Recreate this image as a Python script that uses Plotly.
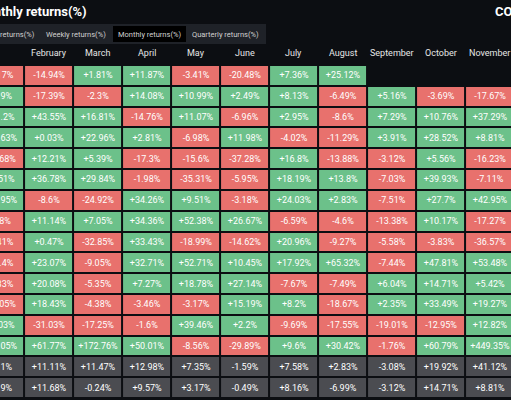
import plotly.graph_objects as go

months = ["January","February","March","April","May","June","July","August","September","October","November"]
row_labels = ["2024","2023","2022","2021","2020","2019","2018","2017","2016","2015","2014","2013","2012","2011","Average","Median"]
r2024 = [-6.17,-14.94,1.81,11.87,-3.41,-20.48,7.36,25.12,None,None,None]
r2023 = [9.9,-17.39,-2.3,14.08,10.99,2.49,8.13,-6.49,5.16,-3.69,-17.67]
r2022 = [31.2,43.55,16.81,-14.76,11.07,-6.96,2.95,-8.6,7.29,10.76,37.29]
r2021 = [15.63,0.03,22.96,2.81,-6.98,11.98,-4.02,-11.29,3.91,28.52,8.81]
r2020 = [-19.68,12.21,5.39,-17.3,-15.6,-37.28,16.8,-13.88,-3.12,5.56,-16.23]
r2019 = [1.51,36.78,29.84,-1.98,-35.31,-5.95,18.19,13.8,-7.03,39.93,-7.11]
r2018 = [21.95,-8.6,-24.92,34.26,9.51,-3.18,24.03,2.83,-7.51,27.7,42.95]
r2017 = [-8.8,11.14,7.05,34.36,52.38,26.67,-6.59,-4.6,-13.38,10.17,-17.27]
r2016 = [-9.41,0.47,-32.85,33.43,-18.99,-14.62,20.96,-9.27,-5.58,-3.83,-36.57]
r2015 = [-10.4,23.07,-9.05,32.71,52.71,10.45,17.92,65.32,-7.44,47.81,53.48]
r2014 = [-7.83,20.08,-5.35,7.27,18.78,27.14,-7.67,-7.49,6.04,14.71,5.42]
r2013 = [-16.05,18.43,-4.38,-3.46,-3.17,15.19,8.2,-18.67,2.35,33.49,19.27]
r2012 = [8.03,-31.03,-17.25,-1.6,39.46,2.2,-9.69,-17.55,-19.01,-12.95,12.82]
r2011 = [27.05,61.77,172.76,50.01,-8.56,-29.89,9.6,30.42,-1.76,60.79,449.35]
average = [6.1,11.11,11.47,12.98,7.35,-1.59,7.58,2.83,-3.08,19.92,41.12]
median = [3.9,11.68,-0.24,9.57,3.17,-0.49,8.16,-6.99,-3.12,14.71,8.81]

rows = [r2024,r2023,r2022,r2021,r2020,r2019,r2018,r2017,r2016,r2015,r2014,r2013,r2012,r2011,average,median]

def fmt(v):
    if v is None:
        return ""
    s = f"{v:.2f}".rstrip("0").rstrip(".")
    return ("+" if v >= 0 else "") + s + "%"

z, text = [], []
for i, r in enumerate(rows):
    summary = i >= 14
    z.append([None if v is None else (0 if summary else (1 if v >= 0 else -1)) for v in r])
    text.append([fmt(v) for v in r])

GREEN, RED, GRAY = "#6cc18a", "#e8716d", "#4b4c51"
BG = "#0c0e12"

fig = go.Figure(go.Heatmap(
    z=z, text=text, texttemplate="%{text}",
    textfont=dict(color="white", size=9, family="Roboto"),
    colorscale=[[0, RED], [0.333, RED], [0.334, GRAY], [0.666, GRAY], [0.667, GREEN], [1, GREEN]],
    zmin=-1, zmax=1, showscale=False, xgap=2, ygap=2, hoverinfo="skip"))

x0 = 0.01
fig.update_xaxes(range=[x0, x0 + 511/49], visible=False, fixedrange=True)
fig.update_yaxes(range=[15.5, -0.5], visible=False, fixedrange=True)

H = 400; T = 65; B = 2
plot_h = H - T - B
def ypaper(px):
    return (H - B - px) / plot_h

ann = []
for k, m in enumerate(months):
    ann.append(dict(x=k, y=ypaper(53), yref="paper", text=m, showarrow=False,
                    xanchor="center", yanchor="middle",
                    font=dict(color="#e6e6e6", size=9, family="Roboto")))
ann.append(dict(x=0, xref="paper", xshift=-27, y=ypaper(11), yref="paper", text="<b>Monthly returns(%)</b>",
                xanchor="left", yanchor="middle", showarrow=False,
                font=dict(color="white", size=13, family="Roboto")))
ann.append(dict(x=1, xref="paper", y=ypaper(11), yref="paper", text="<b>CO</b>", xanchor="right", xshift=4,
                yanchor="middle", showarrow=False, font=dict(color="white", size=13, family="Roboto")))
tabs = [("Daily returns(%)", 8), ("Weekly returns(%)", 76), ("Monthly returns(%)", 149), ("Quarterly returns(%)", 225)]
shapes = [
    dict(type="rect", xref="paper", yref="paper", x0=-0.05, x1=266/511, y0=ypaper(44), y1=ypaper(24),
         fillcolor="#1f2228", line=dict(width=0), layer="below"),
    dict(type="rect", xref="paper", yref="paper", x0=113/511, x1=186/511, y0=ypaper(42), y1=ypaper(26),
         fillcolor="#000000", line=dict(width=0), layer="below"),
]
for t, cx in tabs:
    ann.append(dict(x=cx/511, xref="paper", y=ypaper(34), yref="paper", text=t, showarrow=False,
                    xanchor="center", yanchor="middle",
                    font=dict(color="#d0d0d0", size=7.5, family="Roboto")))
fig.update_layout(width=511, height=400, margin=dict(l=0, r=0, t=T, b=B),
                  paper_bgcolor=BG, plot_bgcolor=BG, annotations=ann, shapes=shapes)
fig.write_html("out.html", config={"displayModeBar": False},
               post_script="document.body.style.margin='0';document.body.style.background='%s';" % BG)
